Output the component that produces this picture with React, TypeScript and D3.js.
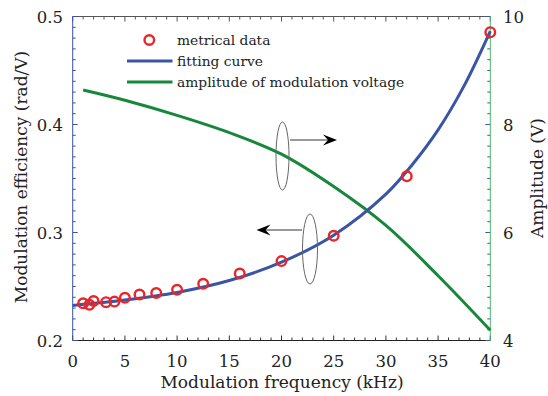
import React from "react";
import * as d3 from "d3";

const W = 548;
const H = 396;

// metrical data
const measFreq = [1, 1.6, 2, 3.2, 4, 5, 6.4, 8, 10, 12.5, 16, 20, 25, 32, 40];
const measEff = [0.2345, 0.233, 0.2365, 0.2355, 0.236, 0.2395, 0.2425, 0.244, 0.247, 0.2525, 0.262, 0.2735, 0.297, 0.352, 0.4855];

// fitting curve
const fitFreq = [0, 5, 10, 15, 20, 25, 30, 32.5, 35, 37.5, 40];
const fitEff = [0.2325, 0.2375, 0.2445, 0.2555, 0.2725, 0.2975, 0.3355, 0.3625, 0.395, 0.436, 0.4865];

// amplitude of modulation voltage
const ampFreq = [1, 5, 10, 15, 20, 25, 30, 35, 40];
const ampVolt = [8.64, 8.45, 8.17, 7.85, 7.45, 6.85, 6.13, 5.2, 4.19];

const xTicks = [0, 5, 10, 15, 20, 25, 30, 35, 40];
const yLeftTicks = [0.2, 0.3, 0.4, 0.5];
const yRightTicks = [4, 6, 8, 10];

const legendLabels = ["metrical data", "fitting curve", "amplitude of modulation voltage"];

const FONT = "'DejaVu Serif', serif";
const RED = "#e8262a";
const BLUE = "#3a54a6";
const GREEN = "#17873c";

export default function App() {
  const left = 72.7, right = 490.3, top = 16.5, bottom = 340.5;
  const x = d3.scaleLinear().domain([0, 40]).range([left, right]);
  const yL = d3.scaleLinear().domain([0.2, 0.5]).range([bottom, top]);
  const yR = d3.scaleLinear().domain([4, 10]).range([bottom, top]);

  const fitLine = d3
    .line<number>()
    .x((_, i) => x(fitFreq[i]))
    .y((d) => yL(d))
    .curve(d3.curveCatmullRom);
  const ampLine = d3
    .line<number>()
    .x((_, i) => x(ampFreq[i]))
    .y((d) => yR(d))
    .curve(d3.curveCatmullRom);

  const xMinor = d3.range(0, 40.001, 1);
  const yLMinor = d3.range(0.2, 0.5001, 0.01);
  const yRMinor = d3.range(4, 10.001, 0.2);

  const isMajor = (v: number, step: number) => Math.abs(v / step - Math.round(v / step)) < 1e-6;

  const arrowHead = (tx: number, ty: number, dir: number) => {
    const L = 14, hw = 5.5, notch = 9;
    const p = [
      [tx, ty],
      [tx - dir * L, ty - hw],
      [tx - dir * notch, ty],
      [tx - dir * L, ty + hw],
    ];
    return "M" + p.map((q) => q.join(",")).join("L") + "Z";
  };

  return (
    <svg width={W} height={H} style={{ position: "absolute", left: 0, top: 0, background: "#fff" }} fontFamily={FONT}>
      <rect x={0} y={0} width={W} height={H} fill="#fff" />

      {/* top axis */}
      <line x1={left} x2={right} y1={top} y2={top} stroke="#555" strokeWidth={1} />
      {xMinor.map((v) => (
        <line key={"tt" + v} x1={x(v)} x2={x(v)} y1={top} y2={top + (isMajor(v, 5) ? 5 : 3)} stroke="#555" strokeWidth={1} />
      ))}
      {/* bottom axis */}
      {xMinor.map((v) => (
        <line key={"bt" + v} x1={x(v)} x2={x(v)} y1={bottom} y2={bottom - (isMajor(v, 5) ? 5 : 3)} stroke="#333" strokeWidth={1} />
      ))}
      <line x1={left} x2={right} y1={bottom} y2={bottom} stroke="#222" strokeWidth={1} />

      {/* left axis */}
      {yLMinor.map((v) => (
        <line key={"lt" + v} x1={left} x2={left + (isMajor(v, 0.1) ? 5 : 3)} y1={yL(v)} y2={yL(v)} stroke={BLUE} strokeWidth={1} />
      ))}
      <line x1={left} x2={left} y1={top} y2={bottom} stroke={BLUE} strokeWidth={1} />

      {/* right axis */}
      {yRMinor.map((v) => (
        <line key={"rt" + v} x1={right} x2={right - (isMajor(v, 2) ? 5 : 3)} y1={yR(v)} y2={yR(v)} stroke="#3a5a9a" strokeWidth={1} />
      ))}
      <line x1={right} x2={right} y1={top} y2={bottom} stroke="#4cb86e" strokeWidth={1} />

      {/* tick labels */}
      {xTicks.map((v) => (
        <text key={"xl" + v} x={x(v)} y={367} fontSize={16.5} textAnchor="middle" fill="#222">{v}</text>
      ))}
      {yLeftTicks.map((v) => (
        <text key={"yl" + v} x={63} y={yL(v) + 6} fontSize={16.5} textAnchor="end" fill="#222">{v.toFixed(1)}</text>
      ))}
      {yRightTicks.map((v) => (
        <text key={"yr" + v} x={503} y={yR(v) + 6} fontSize={16.5} textAnchor="start" fill="#222">{v}</text>
      ))}

      {/* axis titles */}
      <text x={282} y={388} fontSize={17} textAnchor="middle" fill="#222">Modulation frequency (kHz)</text>
      <text transform={`translate(27,177) rotate(-90)`} fontSize={17} textAnchor="middle" fill="#222">Modulation efficiency (rad/V)</text>
      <text transform={`translate(543,178) rotate(-90)`} fontSize={17} textAnchor="middle" fill="#222">Amplitude (V)</text>

      {/* curves */}
      <path d={ampLine(ampVolt) || ""} fill="none" stroke={GREEN} strokeWidth={3} />
      <path d={fitLine(fitEff) || ""} fill="none" stroke={BLUE} strokeWidth={3} />
      {measEff.map((v, i) => (
        <circle key={"c" + i} cx={x(measFreq[i])} cy={yL(v)} r={4.8} fill="none" stroke={RED} strokeWidth={2.4} />
      ))}

      {/* annotation: right-pointing arrow */}
      <ellipse cx={282.5} cy={156} rx={6.5} ry={34} fill="none" stroke="#666" strokeWidth={1} />
      <line x1={290} x2={328} y1={140} y2={140} stroke="#777" strokeWidth={1.5} />
      <path d={arrowHead(337, 140, 1)} fill="#000" />

      {/* annotation: left-pointing arrow */}
      <ellipse cx={310} cy={249} rx={7.5} ry={35} fill="none" stroke="#666" strokeWidth={1} />
      <line x1={302} x2={265} y1={230} y2={230} stroke="#777" strokeWidth={1.5} />
      <path d={arrowHead(256.5, 230, -1)} fill="#000" />

      {/* legend */}
      <circle cx={149.3} cy={40} r={4.8} fill="none" stroke={RED} strokeWidth={2.4} />
      <text x={177} y={45} fontSize={13.8} fill="#222">{legendLabels[0]}</text>
      <line x1={127} x2={172.5} y1={61} y2={61} stroke={BLUE} strokeWidth={3} />
      <text x={177} y={66} fontSize={13.8} fill="#222">{legendLabels[1]}</text>
      <line x1={127} x2={172.5} y1={82} y2={82} stroke={GREEN} strokeWidth={3} />
      <text x={177} y={87} fontSize={13.8} fill="#222">{legendLabels[2]}</text>
    </svg>
  );
}
